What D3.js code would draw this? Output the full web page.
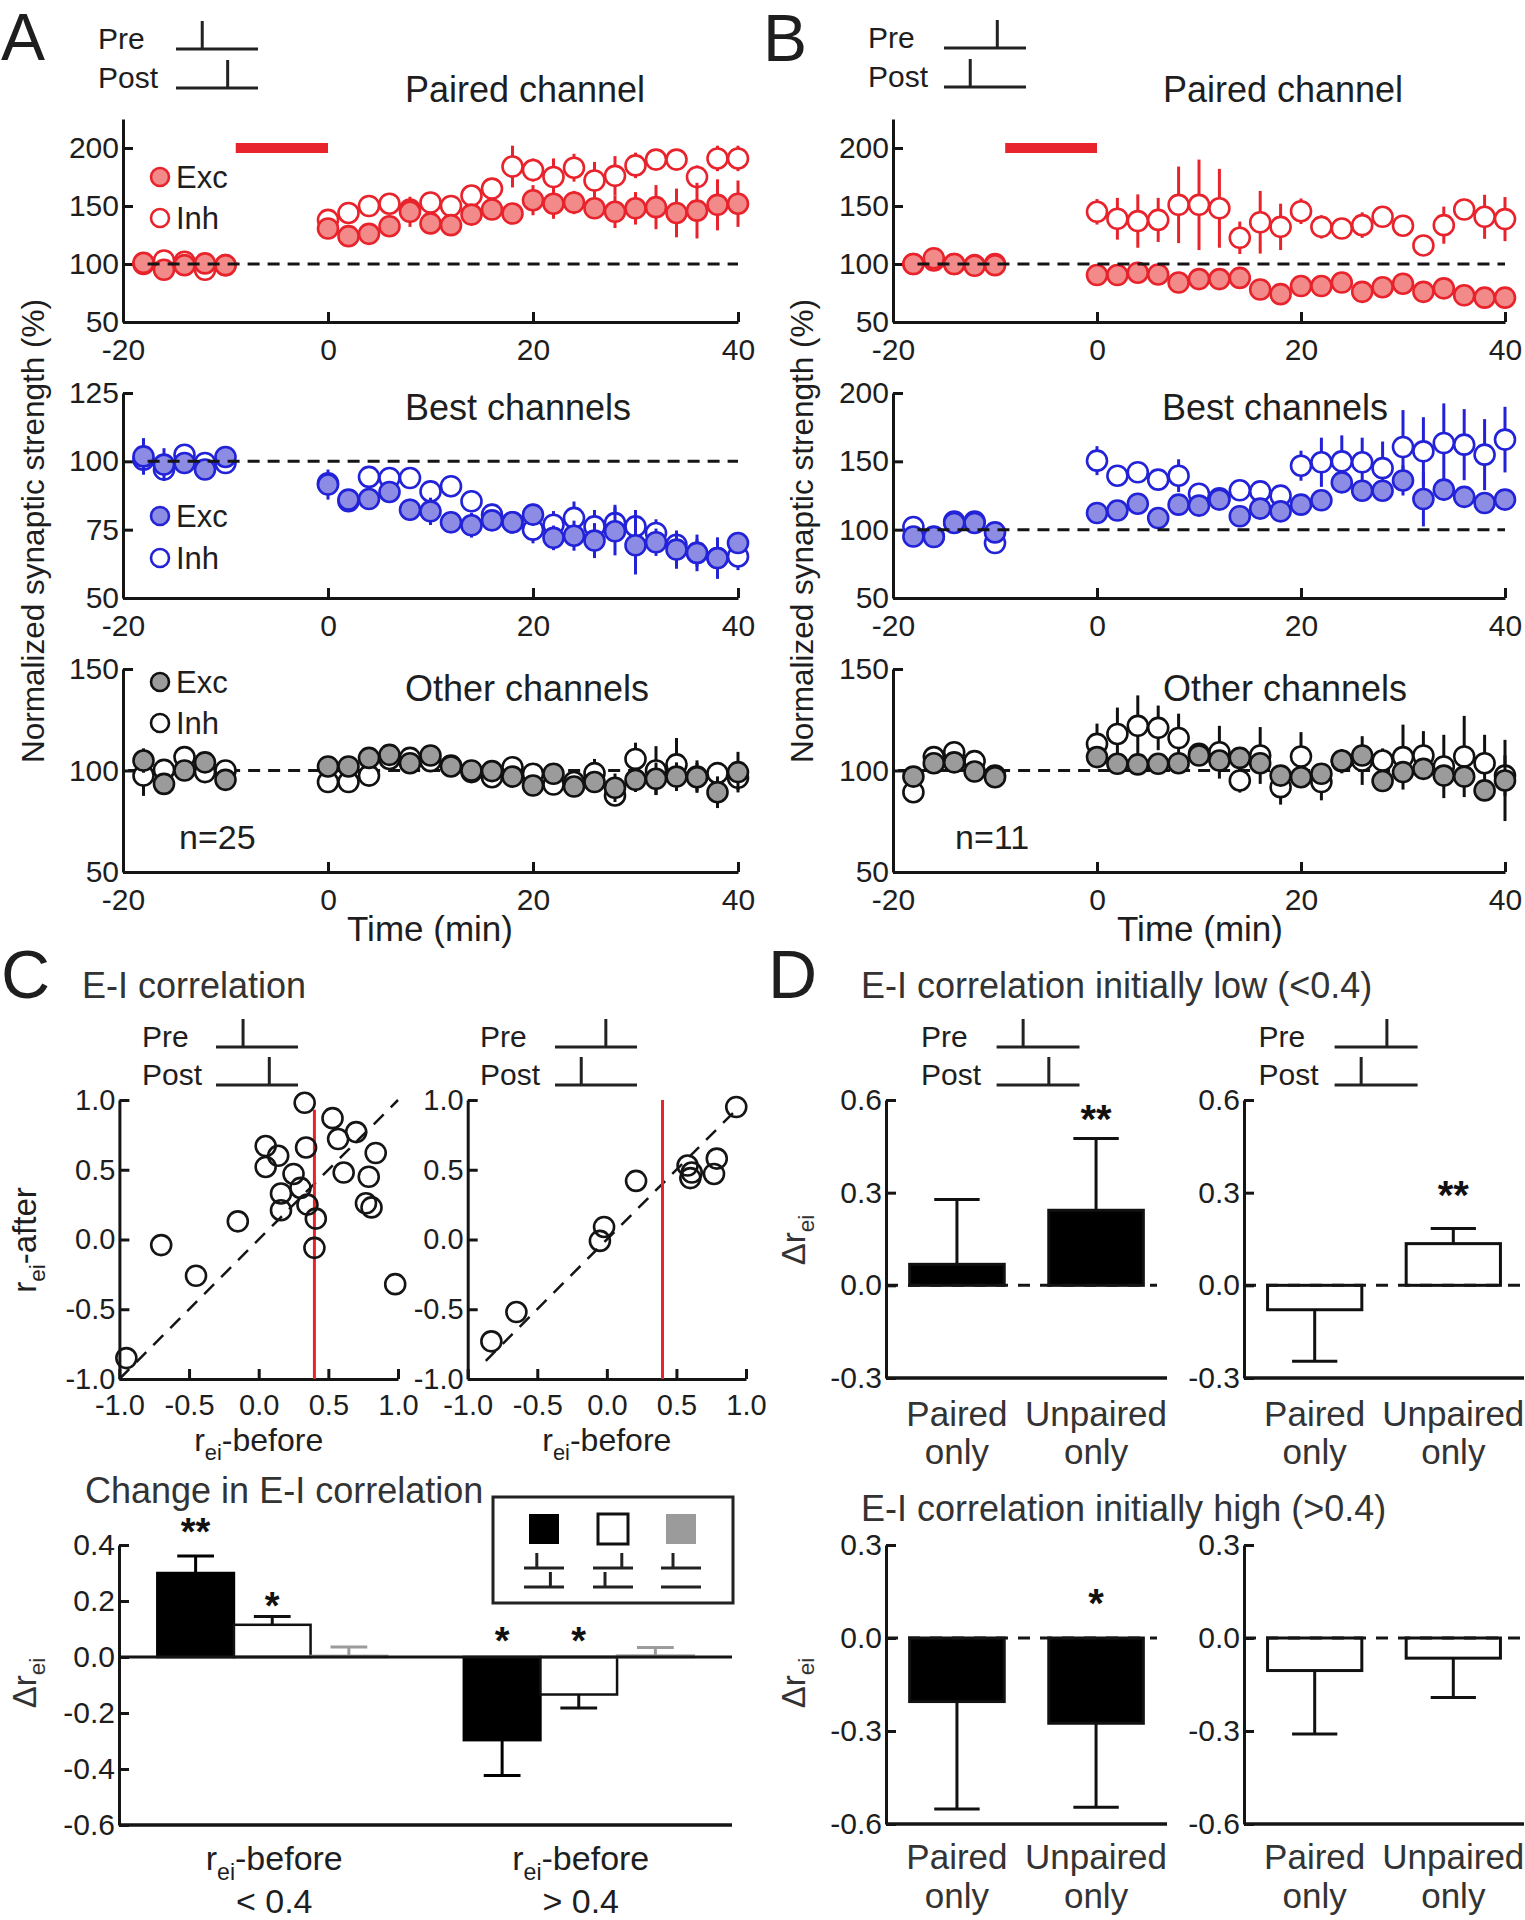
<!DOCTYPE html>
<html><head><meta charset="utf-8"><title>Figure</title>
<script src="https://cdn.jsdelivr.net/npm/d3@7/dist/d3.min.js"></script>
<style>
html,body{margin:0;padding:0;background:#fff;}
svg text{font-family:"Liberation Sans",Arial,Helvetica,sans-serif;}
</style></head>
<body><svg id="fig" width="1525" height="1920" xmlns="http://www.w3.org/2000/svg"></svg>
<script>
// ---------------- DATA ----------------
const timePoints = [-18,-16,-14,-12,-10,0,2,4,6,8,10,12,14,16,18,20,22,24,26,28,30,32,34,36,38,40];
const timeTicks = [-20,0,20,40];
const pairingPeriod = [-9,0];

const aPairedExc    = [101,95,99,100.5,99, 130.6,124,126,132.6,145,135,133.5,142.6,147,143.5,155,152,153,148,145,148,149,144,146,151,152];
const aPairedExcErr = [3,3,3,3,3, 4,4,4,5,13,6,6,9,6,6,13,13,10,9,14,14,19,21,24,22,20];
const aPairedInh    = [100,103,102,95,99, 138,144,150,152,147,153,150,159,165,184,181,175,183,172,176,185,190,190,175,191,191];
const aPairedInhErr = [3,3,3,3,3, 5,5,5,5,5,6,6,6,6,18,10,16,12,16,17,11,9,5,10,11,11];

const bPairedExc    = [100,105,100,98.5,99, 90.5,90.5,92.5,91,84,87,87,88,78,74,81,81,84,76,80,83,76,79,73,71,71];
const bPairedExcErr = [3,4,3,3,3, 4,4,5,4,4,4,4,4,4,4,4,4,4,4,4,4,4,4,4,4,4];
const bPairedInh    = [100,103,100,99,100, 145,139,137,138,151,151,148,122.6,136,132,145.5,132,130.6,133.5,140.7,133,116,133.5,147,140.7,138.7];
const bPairedInhErr = [3,3,3,3,3, 11,18,23,19,33,39,34,14,27,20,11,10,8,11,9,9,6,16,6,19,19];

const aBestExc    = [101.8,98.8,99.4,97,101.6, 91.5,86,86.2,88.8,82.3,81.7,77.7,76.6,78.4,77.7,80.5,72,72.8,71,74.4,69.3,70.4,67.7,66.5,64.6,70.1];
const aBestExcErr = [6.7,6,3,3,3, 5.5,3,3,4,4,5,4,4.5,3,4,4,4.5,5.5,6.4,8.8,10.7,5,7,6.7,7.6,4];
const aBestInh    = [100.6,97,102.4,99.4,99.4, 92,85.4,94.3,93.9,93.9,89,90.9,85.4,80.5,77.7,75,76.8,79.3,76.2,77.4,76.2,73.8,69.5,66.5,64.6,65.2];
const aBestInhErr = [3,3,3,3,3, 3,3,3,3,4,4,4,4,4,4,5,5,6,6,6.7,6,5,5,5,5,5];

const bBestExc    = [95,94.6,104.9,104.9,98, 112.2,114,119,108.5,118.3,117.6,122,109.8,115.4,113.4,118.3,121.5,134.6,128.5,128.5,136,122.4,129.3,124,119.5,122];
const bBestExcErr = [4,4,4,4,4, 5,5,5,5,5,5,5,5,5,5,5,5,6,5,5,11,20,8,5,4,6];
const bBestInh    = [102,95,106,106,90.2, 150.5,139.5,142,136.6,139.5,126.3,123,128.8,128,124.9,146.8,149.3,150,149.3,145,160.5,157.3,163.4,162.2,154.9,165.9];
const bBestInhErr = [3,3,3,3,3, 10.6,6,6,4,12,5,4,6,5,5,11,18,19,18,19.5,27,25,29,26,26,24];

const aOtherExc    = [104.9,93.4,100,104,95.4, 102,102,106.2,107.7,103.6,107.4,102,100,99.7,97,92.6,98.4,92.1,94.3,91.5,95.4,95.9,97,96.7,89.3,99.2];
const aOtherExcErr = [6,3,3,3,3, 3,3,3,3,5,3,3,3,3,3,3,5,5,4,7,6,8,7,7,7.8,10];
const aOtherInh    = [97.5,100.3,106.6,99.2,100, 94.3,94.3,97.5,105.7,106.2,104.6,102.5,99.2,96.7,101.6,98.4,93.1,94.3,98.7,87.7,105.7,100,103,97,98.7,96.4];
const aOtherInhErr = [10,3,3,3,3, 3,4,3,3,3,4,3,3,4,3,3,4,4,7,5,8,12,13,8,5,6];

const bOtherExc    = [97,103.6,104,99.5,96.7, 106.6,103.3,103,103.3,103.6,107.4,104.9,106.2,103.6,97.5,96.7,98.4,104.9,107.4,94.8,99.2,100.8,97.5,97,90.2,95.1];
const bOtherExcErr = [4,4,4,4,4, 4,4,4,4,4,4,4,4,4,4,4,4,4,4,4,4,4,4,4,5,20];
const bOtherInh    = [89.3,106.6,109,104.6,97.5, 113.1,118,122,121,116,108.2,109,95.1,107.4,91.8,106.9,94.3,104.6,104.9,104.9,106.6,107.4,102,106.9,103.6,97.5];
const bOtherInhErr = [5,5,3,3,3, 10,13,15,11,12,5,13,6,14,8.6,12,9,6,12,6,16,12,15.6,20,14,10];

// C: scatter (r_ei before vs after)
const corrTicks = [-1,-0.5,0,0.5,1];
const corrThreshold = 0.4;
const pairedBefore   = [0.33,0.53,0.05,0.34,0.70,0.57,0.84,0.14,0.05,0.61,0.25,0.79,0.30,0.16,0.35,0.77,0.81,0.16,-0.15,0.41,0.40,-0.70,-0.45,0.98,-0.95];
const pairedAfter    = [0.98,0.87,0.67,0.66,0.77,0.72,0.62,0.60,0.52,0.48,0.47,0.45,0.37,0.33,0.25,0.26,0.23,0.21,0.13,0.15,-0.06,-0.04,-0.26,-0.32,-0.85];
const unpairedBefore = [0.93,0.58,0.61,0.60,0.79,0.77,0.21,-0.02,-0.05,-0.65,-0.83];
const unpairedAfter  = [0.95,0.53,0.48,0.44,0.58,0.47,0.42,0.09,-0.01,-0.52,-0.73];

// C: change in E-I correlation bars
const changeGroups = ["< 0.4","> 0.4"];
const changeKinds = ["prePost","postPre","preOnly"];
const changeMeans = {prePost:[0.300,-0.297], postPre:[0.115,-0.134], preOnly:[0.004,0.005]};
const changeErr   = {prePost:[0.061,0.126], postPre:[0.030,0.048], preOnly:[0.032,0.029]};
const changeSig   = [{g:0,k:"prePost",y:0.48,t:"**"},{g:0,k:"postPre",y:0.214,t:"*"},{g:1,k:"prePost",y:0.089,t:"*"},{g:1,k:"postPre",y:0.089,t:"*"}];
const changeTicks = [-0.6,-0.4,-0.2,0,0.2,0.4];

// D: paired-only / unpaired-only
const dCats = ["Paired only","Unpaired only"];
const dLowPrePost  = [0.068,0.243], dLowPrePostErr  = [0.210,0.232];
const dLowPostPre  = [-0.079,0.135], dLowPostPreErr = [0.167,0.049];
const dHighPrePost = [-0.205,-0.275], dHighPrePostErr = [0.347,0.271];
const dHighPostPre = [-0.105,-0.065], dHighPostPreErr = [0.205,0.127];
const dLowTicks = [-0.3,0,0.3,0.6], dHighTicks = [-0.6,-0.3,0,0.3];
const dLowSig = [{side:"L",i:1,y:0.565,t:"**"},{side:"R",i:1,y:0.318,t:"**"}];
const dHighSig = [{side:"L",i:1,y:0.14,t:"*"}];

// ---------------- DRAWING ----------------
const svg = d3.select("#fig");
const INK = "#151515", TXT = "#1e1e1e", TXT2 = "#333";
const RED = {stroke:"#e8232b", fill:"#f28a8a"};
const BLUE = {stroke:"#2222d8", fill:"#8c8ce4"};
const GREY = {stroke:"#111", fill:"#9b9b9b"};
const TICK_FS = 30;
const fmt1 = d => d3.format(".1f")(d).replace("\u2212","-");
const fmtInt = d => String(d).replace("\u2212","-");

function styleAxis(g, fs){
  g.attr("font-family",null).attr("font-size",null);
  g.select(".domain").attr("stroke",INK).attr("stroke-width",3);
  g.selectAll(".tick line").attr("stroke",INK).attr("stroke-width",3);
  g.selectAll(".tick text").attr("fill",TXT).attr("font-size",fs);
}
function txt(x,y,s,o={}){
  const t = svg.append("text").attr("x",x).attr("y",y).text(s)
    .attr("font-size",o.fs||30).attr("fill",o.fill||TXT).attr("text-anchor",o.anchor||"start");
  if(o.rot) t.attr("transform",`rotate(-90,${x},${y})`);
  if(o.db) t.attr("dominant-baseline",o.db);
  if(o.fw) t.attr("font-weight",o.fw);
  return t;
}
function subText(x,y,parts,o={}){
  const fs = o.fs||30;
  const t = svg.append("text").attr("x",x).attr("y",y).attr("font-size",fs)
    .attr("fill",o.fill||TXT).attr("text-anchor",o.anchor||"middle");
  if(o.rot) t.attr("transform",`rotate(-90,${x},${y})`);
  let shifted = false;
  parts.forEach(([s,sub])=>{
    const ts = t.append("tspan").text(s);
    if(sub){ ts.attr("font-size",fs*0.68).attr("dy",fs*0.28); shifted = true; }
    else if(shifted){ ts.attr("dy",-fs*0.28); shifted = false; }
  });
  return t;
}
function timing(textX, lx0, lx1, preFrac, postFrac, yPre, yPost){
  const w = lx1-lx0;
  txt(textX, yPre, "Pre", {fs:30});
  txt(textX, yPost, "Post", {fs:30});
  [[yPre,preFrac],[yPost,postFrac]].forEach(([yy,f])=>{
    svg.append("line").attr("x1",lx0).attr("x2",lx1).attr("y1",yy).attr("y2",yy).attr("stroke","#222").attr("stroke-width",3);
    svg.append("line").attr("x1",lx0+w*f).attr("x2",lx0+w*f).attr("y1",yy-28).attr("y2",yy).attr("stroke","#222").attr("stroke-width",3);
  });
}

function timePanel(p){
  const x = d3.scaleLinear().domain([-20,40]).range([p.x0,p.x1]);
  const y = d3.scaleLinear().domain(p.yDomain).range([p.yBottom,p.yTop]);
  const g = svg.append("g");
  g.append("g").attr("transform",`translate(0,${p.yBottom})`)
    .call(d3.axisBottom(x).tickValues(timeTicks).tickFormat(fmtInt).tickSize(-10).tickSizeOuter(0).tickPadding(17))
    .call(a=>styleAxis(a,TICK_FS));
  g.append("g").attr("transform",`translate(${p.x0},0)`)
    .call(d3.axisLeft(y).tickValues(p.ticks).tickFormat(fmtInt).tickSize(-10).tickSizeOuter(0).tickPadding(4))
    .call(a=>styleAxis(a,TICK_FS));
  const drawDash = () => g.append("line").attr("x1",x(p.dashFrom)).attr("x2",x(40)).attr("y1",y(100)).attr("y2",y(100))
     .attr("stroke",INK).attr("stroke-width",3).attr("stroke-dasharray","12,8");
  if(!p.dashOnTop) drawDash();
  if(p.pairing){
    g.append("rect").attr("x",x(pairingPeriod[0])).attr("width",x(pairingPeriod[1])-x(pairingPeriod[0]))
      .attr("y",y(200)-5).attr("height",10).attr("fill",RED.stroke);
  }
  const series = [{v:p.inh,e:p.inhErr,fill:"#fff"},{v:p.exc,e:p.excErr,fill:p.col.fill}];
  series.forEach(s=>{
    const d = timePoints.map((t,i)=>({t, v:s.v[i], e:s.e[i]}));
    g.append("g").selectAll("line").data(d).join("line")
      .attr("x1",d=>x(d.t)).attr("x2",d=>x(d.t)).attr("y1",d=>y(d.v-d.e)).attr("y2",d=>y(d.v+d.e))
      .attr("stroke",p.col.stroke).attr("stroke-width",3);
    g.append("g").selectAll("circle").data(d).join("circle")
      .attr("cx",d=>x(d.t)).attr("cy",d=>y(d.v)).attr("r",10)
      .attr("fill",s.fill).attr("stroke",p.col.stroke).attr("stroke-width",2.6);
  });
  if(p.dashOnTop) drawDash();
  txt(p.titleX, p.titleY, p.title, {fs:36, anchor:"middle"});
  if(p.legend){
    const [lx,ly1,ly2] = p.legend;
    [[ly1,p.col.fill,"Exc"],[ly2,"#fff","Inh"]].forEach(([ly,f,s])=>{
      g.append("circle").attr("cx",lx).attr("cy",ly).attr("r",9).attr("fill",f).attr("stroke",p.col.stroke).attr("stroke-width",2.6);
      txt(lx+16, ly+11, s, {fs:31});
    });
  }
}

// Panel letters
txt(1,60,"A",{fs:66}); txt(763,61,"B",{fs:66});
txt(1,998,"C",{fs:68}); txt(768,998,"D",{fs:68});

// Timing icons A/B
timing(98,176,258,0.32,0.63,49,88);
timing(868,944,1026,0.65,0.32,48,87);

const AX=[123,738], BX=[893,1505];
timePanel({x0:AX[0],x1:AX[1],yDomain:[50,225],yTop:119,yBottom:322,ticks:[50,100,150,200],exc:aPairedExc,excErr:aPairedExcErr,inh:aPairedInh,inhErr:aPairedInhErr,col:RED,title:"Paired channel",titleX:525,titleY:102,legend:[160,177,218],pairing:true,dashFrom:-17.6,dashOnTop:true});
timePanel({x0:BX[0],x1:BX[1],yDomain:[50,225],yTop:119,yBottom:322,ticks:[50,100,150,200],exc:bPairedExc,excErr:bPairedExcErr,inh:bPairedInh,inhErr:bPairedInhErr,col:RED,title:"Paired channel",titleX:1283,titleY:102,pairing:true,dashFrom:-17.6,dashOnTop:true});
timePanel({x0:AX[0],x1:AX[1],yDomain:[50,125],yTop:393,yBottom:598,ticks:[50,75,100,125],exc:aBestExc,excErr:aBestExcErr,inh:aBestInh,inhErr:aBestInhErr,col:BLUE,title:"Best channels",titleX:518,titleY:420,legend:[160,516,558],dashFrom:-17.6,dashOnTop:true});
timePanel({x0:BX[0],x1:BX[1],yDomain:[50,200],yTop:393,yBottom:598,ticks:[50,100,150,200],exc:bBestExc,excErr:bBestExcErr,inh:bBestInh,inhErr:bBestInhErr,col:BLUE,title:"Best channels",titleX:1275,titleY:420,dashFrom:-17.6,dashOnTop:true});
timePanel({x0:AX[0],x1:AX[1],yDomain:[50,150],yTop:669,yBottom:872,ticks:[50,100,150],exc:aOtherExc,excErr:aOtherExcErr,inh:aOtherInh,inhErr:aOtherInhErr,col:GREY,title:"Other channels",titleX:527,titleY:701,legend:[160,682,723],dashFrom:-19.5,dashOnTop:false});
timePanel({x0:BX[0],x1:BX[1],yDomain:[50,150],yTop:669,yBottom:872,ticks:[50,100,150],exc:bOtherExc,excErr:bOtherExcErr,inh:bOtherInh,inhErr:bOtherInhErr,col:GREY,title:"Other channels",titleX:1285,titleY:701,dashFrom:-19.5,dashOnTop:false});

txt(179,849,"n=25",{fs:34}); txt(955,849,"n=11",{fs:34});
txt(430,941,"Time (min)",{fs:35,anchor:"middle"}); txt(1200,941,"Time (min)",{fs:35,anchor:"middle"});
txt(33,531,"Normalized synaptic strength (%)",{fs:31.5,anchor:"middle",rot:true,db:"central"});
txt(802,531,"Normalized synaptic strength (%)",{fs:31.5,anchor:"middle",rot:true,db:"central"});

// ---------- C scatter ----------
txt(82,998,"E-I correlation",{fs:36,fill:TXT2});
timing(142,216,298,0.33,0.65,1047,1085);
timing(480,555,637,0.62,0.32,1047,1085);
function scatterPanel(p){
  const x = d3.scaleLinear().domain([-1,1]).range([p.x0,p.x1]);
  const y = d3.scaleLinear().domain([-1,1]).range([1379,1100]);
  const g = svg.append("g");
  g.append("g").attr("transform",`translate(0,${y(-1)})`)
    .call(d3.axisBottom(x).tickValues(corrTicks).tickFormat(fmt1).tickSize(-10).tickSizeOuter(0).tickPadding(15))
    .call(a=>styleAxis(a,29));
  g.append("g").attr("transform",`translate(${x(-1)},0)`)
    .call(d3.axisLeft(y).tickValues(corrTicks).tickFormat(fmt1).tickSize(-10).tickSizeOuter(0).tickPadding(4))
    .call(a=>styleAxis(a,29));
  g.append("line").attr("x1",x(p.diag[0])).attr("y1",y(p.diag[0])).attr("x2",x(p.diag[1])).attr("y2",y(p.diag[1]))
    .attr("stroke",INK).attr("stroke-width",2.5).attr("stroke-dasharray","14,10");
  g.append("line").attr("x1",x(corrThreshold)).attr("x2",x(corrThreshold)).attr("y1",y(-1)).attr("y2",y(p.redTop))
    .attr("stroke",RED.stroke).attr("stroke-width",3);
  const d = p.bx.map((v,i)=>({a:v,b:p.by[i]}));
  g.append("g").selectAll("circle").data(d).join("circle")
    .attr("cx",d=>x(d.a)).attr("cy",d=>y(d.b)).attr("r",10)
    .attr("fill","none").attr("stroke",INK).attr("stroke-width",2.6);
  subText((p.x0+p.x1)/2, 1451, [["r",false],["ei",true],["-before",false]], {fs:32});
}
scatterPanel({x0:119.4,x1:398,bx:pairedBefore,by:pairedAfter,diag:[-1,1],redTop:0.93});
scatterPanel({x0:467.7,x1:746,bx:unpairedBefore,by:unpairedAfter,diag:[-0.87,0.93],redTop:1.0});
subText(36,1240,[["r",false],["ei",true],["-after",false]],{fs:33,rot:true});

// ---------- C change bars ----------
txt(85,1503,"Change in E-I correlation",{fs:36,fill:TXT2});
(function(){
  const y = d3.scaleLinear().domain([-0.6,0.4]).range([1825,1545]);
  const x0 = d3.scaleBand().domain(changeGroups).range([119,732]).paddingInner(0.25).paddingOuter(0.125);
  const x1 = d3.scaleBand().domain(changeKinds).range([0,x0.bandwidth()]);
  const style = {prePost:{fill:"#000",stroke:"#000",err:"#000"}, postPre:{fill:"#fff",stroke:"#111",err:"#111"}, preOnly:{fill:"#9b9b9b",stroke:"#9b9b9b",err:"#9b9b9b"}};
  const g = svg.append("g");
  g.append("g").attr("transform","translate(119,0)")
    .call(d3.axisLeft(y).tickValues(changeTicks).tickFormat(fmt1).tickSize(-10).tickSizeOuter(0).tickPadding(4))
    .call(a=>styleAxis(a,TICK_FS));
  const bars = [];
  changeGroups.forEach((grp,gi)=>changeKinds.forEach(k=>bars.push({grp,gi,k,m:changeMeans[k][gi],e:changeErr[k][gi]})));
  const bx = d=>x0(d.grp)+x1(d.k);
  g.append("g").selectAll("rect").data(bars).join("rect")
    .attr("x",bx).attr("width",x1.bandwidth())
    .attr("y",d=>y(Math.max(0,d.m))).attr("height",d=>Math.max(1,Math.abs(y(d.m)-y(0))))
    .attr("fill",d=>style[d.k].fill).attr("stroke",d=>style[d.k].stroke).attr("stroke-width",2.5);
  const cw = x1.bandwidth()*0.48;
  bars.forEach(d=>{
    const cx = bx(d)+x1.bandwidth()/2, s = d.m>=0?1:-1, end = y(d.m+s*d.e);
    g.append("line").attr("x1",cx).attr("x2",cx).attr("y1",y(d.m)).attr("y2",end).attr("stroke",style[d.k].err).attr("stroke-width",3);
    g.append("line").attr("x1",cx-cw/2).attr("x2",cx+cw/2).attr("y1",end).attr("y2",end).attr("stroke",style[d.k].err).attr("stroke-width",3);
  });
  g.append("line").attr("x1",119).attr("x2",732).attr("y1",y(0)).attr("y2",y(0)).attr("stroke",INK).attr("stroke-width",3);
  g.append("line").attr("x1",119).attr("x2",732).attr("y1",y(-0.6)).attr("y2",y(-0.6)).attr("stroke",INK).attr("stroke-width",3.5);
  changeSig.forEach(s=>{
    const cx = x0(changeGroups[s.g])+x1(s.k)+x1.bandwidth()/2;
    txt(cx, y(s.y)+22, s.t, {fs:38, anchor:"middle", fill:"#111", fw:"bold"});
  });
  changeGroups.forEach(grp=>{
    const cx = x0(grp)+x0.bandwidth()/2 + 2;
    subText(cx, 1870, [["r",false],["ei",true],["-before",false]], {fs:34});
    txt(cx, 1913, grp, {fs:34, anchor:"middle"});
  });
  // legend box
  g.append("rect").attr("x",493).attr("y",1497).attr("width",240).attr("height",106).attr("fill","#fff").attr("stroke","#222").attr("stroke-width",3);
  const legendItems = [{k:"prePost",cx:544,pre:0.32,post:0.66},{k:"postPre",cx:613,pre:0.72,post:0.30},{k:"preOnly",cx:681,pre:0.30,post:null}];
  legendItems.forEach(it=>{
    const st = style[it.k];
    g.append("rect").attr("x",it.cx-15).attr("y",1514).attr("width",30).attr("height",30)
      .attr("fill",st.fill).attr("stroke",it.k==="postPre"?"#111":st.fill).attr("stroke-width",it.k==="postPre"?3:0);
    [[1568,it.pre],[1587,it.post]].forEach(([yy,f])=>{
      g.append("line").attr("x1",it.cx-20).attr("x2",it.cx+20).attr("y1",yy).attr("y2",yy).attr("stroke","#222").attr("stroke-width",3);
      if(f!==null) g.append("line").attr("x1",it.cx-20+40*f).attr("x2",it.cx-20+40*f).attr("y1",yy-15).attr("y2",yy).attr("stroke","#222").attr("stroke-width",3);
    });
  });
})();
subText(36,1683,[["\u0394r",false],["ei",true]],{fs:33,rot:true,fill:TXT2});

// ---------- D ----------
txt(861,998,"E-I correlation initially low (<0.4)",{fs:36,fill:TXT2});
txt(861,1521,"E-I correlation initially high (>0.4)",{fs:36,fill:TXT2});
timing(921,996.6,1079.5,0.32,0.63,1047,1085);
timing(1258.5,1334.6,1417.6,0.63,0.32,1047,1085);

function dPanel(p){
  const y = d3.scaleLinear().domain(p.yDomain).range([p.yBottom,p.yTop]);
  const x = d3.scaleBand().domain(dCats).range([p.x0,p.x1]).paddingInner(0.32).paddingOuter(0.17);
  const g = svg.append("g");
  g.append("g").attr("transform",`translate(${p.x0},0)`)
    .call(d3.axisLeft(y).tickValues(p.ticks).tickFormat(fmt1).tickSize(-10).tickSizeOuter(0).tickPadding(4))
    .call(a=>styleAxis(a,TICK_FS));
  g.append("line").attr("x1",p.x0).attr("x2",p.x1).attr("y1",p.yBottom).attr("y2",p.yBottom).attr("stroke",INK).attr("stroke-width",3.5);
  const d = dCats.map((c,i)=>({c,m:p.m[i],e:p.e[i]}));
  g.append("g").selectAll("rect").data(d).join("rect")
    .attr("x",d=>x(d.c)).attr("width",x.bandwidth())
    .attr("y",d=>y(Math.max(0,d.m))).attr("height",d=>Math.abs(y(d.m)-y(0)))
    .attr("fill",p.fill).attr("stroke","#111").attr("stroke-width",3);
  const cw = x.bandwidth()*0.48;
  d.forEach(v=>{
    const cx = x(v.c)+x.bandwidth()/2, s = v.m>=0?1:-1, end = y(v.m+s*v.e);
    g.append("line").attr("x1",cx).attr("x2",cx).attr("y1",y(v.m)).attr("y2",end).attr("stroke","#111").attr("stroke-width",3);
    g.append("line").attr("x1",cx-cw/2).attr("x2",cx+cw/2).attr("y1",end).attr("y2",end).attr("stroke","#111").attr("stroke-width",3);
  });
  g.append("line").attr("x1",p.x0).attr("x2",p.dashTo).attr("y1",y(0)).attr("y2",y(0))
    .attr("stroke",INK).attr("stroke-width",3).attr("stroke-dasharray","12,10");
  p.sig.forEach(s=>{
    const cx = x(dCats[s.i])+x.bandwidth()/2;
    txt(cx, y(s.y)+22, s.t, {fs:40, anchor:"middle", fill:"#111", fw:"bold"});
  });
  dCats.forEach(c=>{
    const cx = x(c)+x.bandwidth()/2;
    const [l1,l2] = c.split(" ");
    txt(cx, p.lab[0], l1, {fs:35, anchor:"middle", fill:TXT2});
    txt(cx, p.lab[1], l2, {fs:35, anchor:"middle", fill:TXT2});
  });
}
dPanel({x0:886,x1:1167,dashTo:1157,yDomain:[-0.3,0.6],yTop:1100,yBottom:1378,ticks:dLowTicks,m:dLowPrePost,e:dLowPrePostErr,fill:"#000",sig:dLowSig.filter(s=>s.side==="L"),lab:[1426,1464]});
dPanel({x0:1244,x1:1524,dashTo:1524,yDomain:[-0.3,0.6],yTop:1100,yBottom:1378,ticks:dLowTicks,m:dLowPostPre,e:dLowPostPreErr,fill:"#fff",sig:dLowSig.filter(s=>s.side==="R"),lab:[1426,1464]});
dPanel({x0:886,x1:1167,dashTo:1157,yDomain:[-0.6,0.3],yTop:1545,yBottom:1824,ticks:dHighTicks,m:dHighPrePost,e:dHighPrePostErr,fill:"#000",sig:dHighSig,lab:[1869,1908]});
dPanel({x0:1244,x1:1524,dashTo:1524,yDomain:[-0.6,0.3],yTop:1545,yBottom:1824,ticks:dHighTicks,m:dHighPostPre,e:dHighPostPreErr,fill:"#fff",sig:[],lab:[1869,1908]});
subText(805,1240,[["\u0394r",false],["ei",true]],{fs:33,rot:true,fill:TXT2});
subText(805,1683,[["\u0394r",false],["ei",true]],{fs:33,rot:true,fill:TXT2});
</script></body></html>
